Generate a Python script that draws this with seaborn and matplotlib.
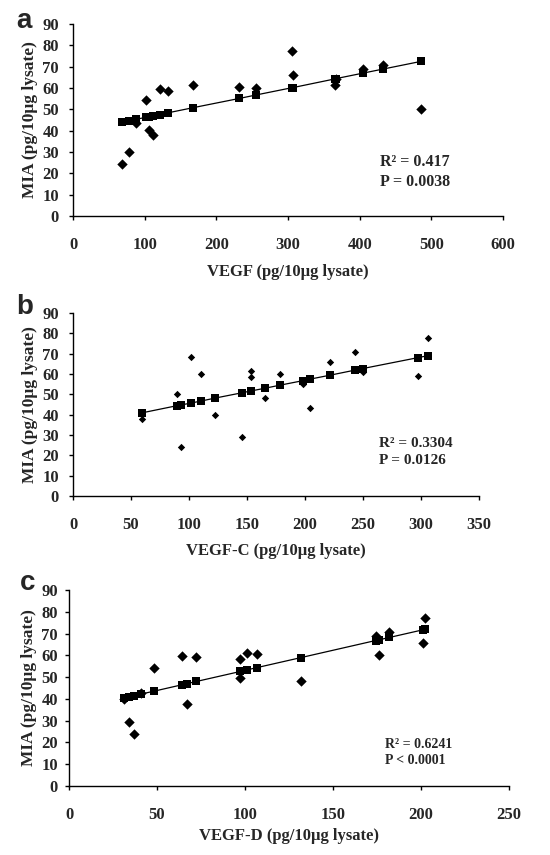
import matplotlib
matplotlib.use("Agg")
import matplotlib.pyplot as plt
import seaborn as sns
import pandas as pd

sns.set_style("white")
plt.rcParams['font.family'] = ['Liberation Serif', 'DejaVu Serif']
plt.rcParams['font.weight'] = 'bold'

# Panel a: VEGF vs MIA
vegf_x = [68, 78, 88, 102, 106, 112, 121, 133, 168, 232, 255, 305, 307, 366, 367, 405, 433, 486]
vegf_mia = [24.3, 30, 43.5, 54.5, 40.3, 38.2, 59.6, 58.4, 61.2, 60.5, 60.1, 77.5, 66.2, 61.2, 64.2, 69, 71, 50]
vegf_fit = [44.0, 44.6, 45.3, 46.3, 46.5, 46.9, 47.5, 48.4, 50.8, 55.1, 56.7, 60.1, 60.2, 64.3, 64.4, 67.0, 68.9, 72.5]

# Panel b: VEGF-C vs MIA
vegfc_x = [59.5, 89.5, 93.5, 101.5, 110.4, 122, 146, 153.8, 153.8, 165.5, 178.4, 198, 204.5, 221.5, 243, 250, 297, 305.8]
vegfc_mia = [37.8, 50.1, 24.2, 68.6, 60.1, 39.7, 29.2, 61.4, 58.6, 48.4, 60.1, 55.3, 43.5, 66, 71, 60.8, 59.1, 77.8]
vegfc_fit = [40.9, 44.4, 44.8, 45.7, 46.7, 48.1, 50.8, 51.7, 51.7, 53.0, 54.5, 56.7, 57.5, 59.4, 61.9, 62.7, 68.0, 69.0]

# Panel c: VEGF-D vs MIA
vegfd_x = [31, 34, 37, 40.8, 48.1, 64.3, 66.9, 72.4, 97.4, 97.4, 101, 107, 132, 174.2, 176, 182, 201, 202]
vegfd_mia = [39.8, 29.5, 24, 42.9, 54.2, 59.8, 37.8, 59.2, 58.2, 49.7, 60.9, 60.7, 48.2, 69, 60.2, 70.6, 65.5, 77.3]
vegfd_fit = [40.4, 41.0, 41.5, 42.2, 43.5, 46.5, 47.0, 48.0, 52.6, 52.6, 53.3, 54.4, 59.0, 66.8, 67.1, 68.2, 71.7, 71.9]

panels = [
    dict(letter='a', x=vegf_x, y=vegf_mia, fit=vegf_fit, xmax=600, xstep=100,
         xlabel='VEGF (pg/10\u03bcg lysate)', stats='R\u00b2 = 0.417\nP = 0.0038',
         box=(73, 24, 503, 216), msize=28, tx=0.714, ty=0.23, tfs=11.5, xly=272,
         lpos=(16, 21), ypad=7),
    dict(letter='b', x=vegfc_x, y=vegfc_mia, fit=vegfc_fit, xmax=350, xstep=50,
         xlabel='VEGF-C (pg/10\u03bcg lysate)', stats='R\u00b2 = 0.3304\nP = 0.0126',
         box=(73, 313, 479, 496), msize=14, tx=0.754, ty=0.24, tfs=11, xly=551,
         lpos=(16, 307), ypad=7),
    dict(letter='c', x=vegfd_x, y=vegfd_mia, fit=vegfd_fit, xmax=250, xstep=50,
         xlabel='VEGF-D (pg/10\u03bcg lysate)', stats='R\u00b2 = 0.6241\nP < 0.0001',
         box=(69, 590, 509, 786), msize=28, tx=0.718, ty=0.17, tfs=10, xly=836,
         lpos=(20, 583), ypad=5),
]

W, H = 550, 855
fig = plt.figure(figsize=(W / 100, H / 100), dpi=100)

for p in panels:
    l, t, r, b = p['box']
    ax = fig.add_axes([l / W, 1 - b / H, (r - l) / W, (b - t) / H])
    df = pd.DataFrame({'x': p['x'], 'y': p['y'], 'fit': p['fit']})
    sns.lineplot(data=df.sort_values('x'), x='x', y='fit', color='black', lw=0.9, ax=ax)
    sns.scatterplot(data=df, x='x', y='y', marker='D', s=p['msize'], color='black',
                    edgecolor='black', linewidth=0, ax=ax, zorder=3)
    sns.scatterplot(data=df, x='x', y='fit', marker='s', s=40, color='black',
                    edgecolor='black', linewidth=0, ax=ax, zorder=3)
    ax.set_xlim(0, p['xmax'])
    ax.set_ylim(0, 90)
    ax.set_xticks(range(0, p['xmax'] + 1, p['xstep']))
    ax.set_yticks(range(0, 91, 10))
    for s in ['top', 'right']:
        ax.spines[s].set_visible(False)
    for s in ['left', 'bottom']:
        ax.spines[s].set_color('black')
        ax.spines[s].set_linewidth(1.0)
    ax.tick_params(axis='both', direction='out', length=3, width=1, color='black',
                   labelsize=12, left=True, bottom=True)
    ax.tick_params(axis='x', pad=12)
    ax.tick_params(axis='y', pad=p['ypad'])
    for lab in ax.get_xticklabels() + ax.get_yticklabels():
        lab.set_fontweight('bold')
    ax.set_xlabel('')
    ax.set_ylabel('MIA (pg/10\u03bcg lysate)', fontsize=12.5, fontweight='bold', labelpad=3)
    fig.text((l + r) / 2 / W, 1 - p['xly'] / H, p['xlabel'], ha='center', va='center',
             fontsize=12, fontweight='bold')
    ax.text(p['tx'], p['ty'], p['stats'], transform=ax.transAxes, ha='left', va='center',
            fontsize=p['tfs'], fontweight='bold', linespacing=1.35)
    fig.text(p['lpos'][0] / W, 1 - p['lpos'][1] / H, p['letter'], ha='left', va='center',
             fontsize=20, fontweight='bold', family=['Liberation Sans', 'DejaVu Sans'])

fig.savefig('out.png', dpi=100)
